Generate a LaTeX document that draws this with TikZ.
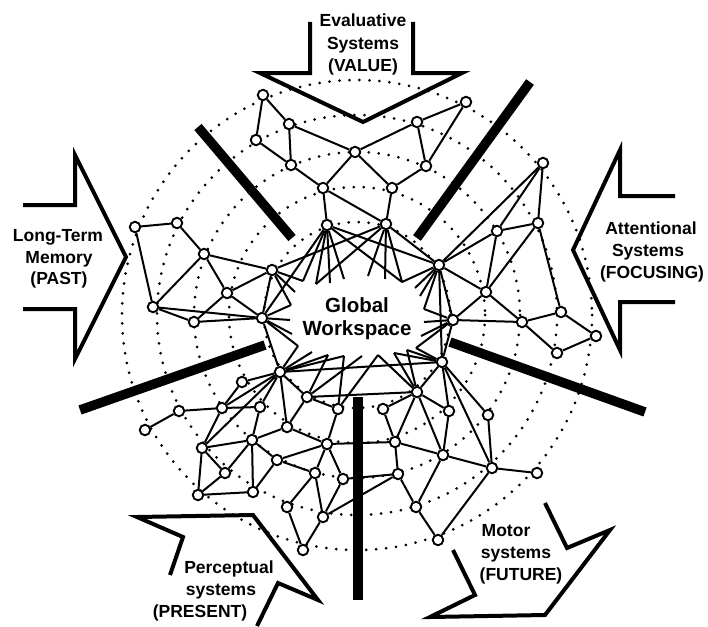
\documentclass[tikz,border=0pt]{standalone}
\usepackage{fontspec}
\setmainfont{Liberation Sans}
\begin{document}
\begin{tikzpicture}[x=1pt,y=-1pt,
  ring/.style={line width=3pt, dash pattern=on 0pt off 10pt, line cap=round, black},
  edge/.style={line width=2pt},
  nd/.style={circle, draw, fill=white, line width=1.9pt, minimum size=10.5pt, inner sep=0pt},
  bar/.style={line width=9.5pt},
  blk/.style={line width=4pt, line join=miter},
  lab/.style={font=\fontsize{17.5}{22}\selectfont\bfseries, inner sep=0pt, anchor=base},
  gw/.style={font=\fontsize{20.5}{24}\selectfont\bfseries, inner sep=0pt, anchor=base},
]
\useasboundingbox (0,0) rectangle (708,626);
\coordinate (c) at (357,315);
% dotted rings
\foreach \r in {235,200,163,128,93} \draw[ring] (c) circle[radius=\r];

% network nodes
\foreach \n/\p in {n1/{263,95}, n2/{289,124}, n3/{256,140}, n4/{291,165}, n5/{355,152}, n6/{417,122},
  n7/{466,102}, n8/{426,166}, n9/{323,188}, n10/{392,188}, n11/{327,225}, n12/{386,224},
  l1/{135,227}, l2/{177,223}, l3/{204,254}, l4/{272,270}, l5/{227,293}, l6/{153,307}, l7/{194,322}, l8/{262,318},
  r1/{543,163}, r2/{538,223}, r3/{497,231}, r4/{439,265}, r5/{486,292}, r6/{453,320}, r7/{522,322},
  r8/{561,312}, r9/{596,336}, r10/{557,353}, r11/{442,362},
  b1/{280,372}, b2/{242,382}, b3/{179,411}, b4/{145,430}, b5/{222,408}, b6/{260,407}, b7/{307,397},
  b8/{338,409}, b9/{287,427}, b10/{252,440}, b11/{202,448}, b12/{277,460}, b13/{327,444}, b14/{225,473},
  b15/{198,495}, b16/{253,492}, b17/{315,473}, b18/{343,479}, b19/{287,507}, b20/{323,517}, b21/{303,550},
  m1/{417,392}, m2/{383,409}, m3/{449,411}, m4/{488,415}, m5/{395,442}, m6/{443,455}, m7/{492,468},
  m8/{537,473}, m9/{398,474}, m10/{416,507}, m11/{438,540}}
  \node[nd] (\n) at (\p) {};

% workspace boundary points
\foreach \n/\p in {t1/{303,281}, t2/{316,284}, t3/{330,283}, t4/{344,279}, t5/{368,276}, t6/{385,279},
  t7/{402,282}, t8/{415,288},
  L1/{295,292}, L2/{291,305}, L3/{290,320}, L4/{292,334}, L5/{298,346},
  R1/{420,296}, R2/{424,309}, R3/{424,322}, R4/{421,336}, R5/{416,348},
  B1/{312,352}, B2/{328,355}, B3/{344,356}, B4/{362,356}, B5/{378,355}, B6/{394,353}, B7/{407,350}}
  \coordinate (\n) at (\p);

% edges between nodes
\foreach \a/\b in {n1/n2, n1/n3, n3/n4, n2/n4, n2/n5, n5/n6, n6/n7, n6/n8, n7/n8, n5/n9, n5/n10,
  n4/n9, n8/n10, n9/n11, n9/n12, n10/n12,
  n11/l8, n11/r4, n12/l4, n12/r4,
  l1/l2, l1/l6, l2/l3, l3/l4, l3/l5, l3/l6, l4/l5, l5/l8, l5/l7, l6/l7, l6/l8, l7/l8, l4/l8, l8/b1,
  r1/r2, r1/r3, r1/r4, r2/r3, r3/r4, r3/r5, r2/r5, r2/r8, r4/r5, r5/r6, r5/r7, r6/r7, r7/r8, r7/r10,
  r8/r9, r9/r10, r4/r6, r4/r11, r6/r11,
  b1/b2, b1/b5, b1/b6, b1/b7, b1/b9, b1/b11, b3/b4, b3/b5, b5/b6, b5/b11, b6/b10, b7/b9, b7/b8,
  b8/b13, b9/b10, b9/b13, b10/b11, b10/b12, b10/b14, b10/b16, b11/b14, b11/b15, b12/b13, b12/b16,
  b12/b17, b13/b17, b13/b18, b14/b15, b15/b16, b17/b19, b17/b20, b18/b20, b19/b21, b20/b21, b20/m9,
  b1/r11, b7/m1, b2/b5,
  r11/m1, r11/m3, r11/m4, r11/m7, m1/m2, m1/m3, m1/m5, m1/m6, m3/m6, m4/m7, m5/m6, m5/m9, m6/m7,
  m6/m10, m7/m8, m9/m10, m10/m11, m7/m11, m2/m5, m5/b13, m9/b18}
  \draw[edge] (\a) -- (\b);

% lines into the global workspace
\foreach \a/\b in {n11/t1, n11/t2, n11/t3, n11/t4, n11/t7, n12/t2, n12/t5, n12/t6, n12/t7,
  l4/L1, l4/L2, l4/t1, l8/L2, l8/L3, l8/L4, l8/L5,
  r4/t8, r4/R1, r4/R2, r4/t7, r6/R2, r6/R3, r6/R4, r6/R5, r11/R5, r11/B7, r11/B6,
  b1/L5, b1/B1, b1/B2, b1/B3, b7/B2, b7/B4, b8/B3, b8/B5, m1/B6, m1/B7, m1/B5}
  \draw[edge] (\a) -- (\b);

% thick dividing bars
\coordinate (s1a) at (198,127); \coordinate (s1b) at (292,238);
\coordinate (s2a) at (530,82);  \coordinate (s2b) at (417,238);
\coordinate (s3a) at (80,410);  \coordinate (s3b) at (265,345);
\coordinate (s4a) at (450,342); \coordinate (s4b) at (645,412);
\coordinate (s5a) at (358,397); \coordinate (s5b) at (358,600);
\foreach \s in {1,...,5} \draw[bar] (s\s a) -- (s\s b);

% block arrows
\draw[blk] (310,22) -- (310,73) -- (260,73) -- (363,122) -- (462,73) -- (413,73) -- (413,22);
\draw[blk] (23,205) -- (75,205) -- (75,155) -- (126,257) -- (75,359) -- (75,309) -- (23,309);
\draw[blk] (675,196) -- (620,196) -- (620,150) -- (573,250) -- (620,350) -- (620,302) -- (675,302);
\draw[blk] (170,575) -- (183,537) -- (137,517) -- (253,515) -- (318,600) -- (278,583) -- (257,626);
\draw[blk] (545,503) -- (567,548) -- (610,530) -- (545,615) -- (430,617) -- (475,595) -- (453,550);

% labels
\node[lab] (ev1) at (363,27) {Evaluative};
\node[lab] (ev2) at (363,49) {Systems};
\node[lab] (ev3) at (363,71) {(VALUE)};
\node[lab] (lt1) at (58,241) {Long-Term};
\node[lab] (lt2) at (59,263) {Memory};
\node[lab] (lt3) at (59,284) {(PAST)};
\node[lab] (at1) at (651,234) {Attentional};
\node[lab] (at2) at (648,256) {Systems};
\node[lab] (at3) at (652,278) {(FOCUSING)};
\node[lab] (pe1) at (229,573) {Perceptual};
\node[lab] (pe2) at (221,595) {systems};
\node[lab] (pe3) at (200,617) {(PRESENT)};
\node[lab] (mo1) at (506,536) {Motor};
\node[lab] (mo2) at (516,558) {systems};
\node[lab] (mo3) at (521,580) {(FUTURE)};
\node[gw] (gw1) at (357,312) {Global};
\node[gw] (gw2) at (357,335) {Workspace};
\end{tikzpicture}
\end{document}
